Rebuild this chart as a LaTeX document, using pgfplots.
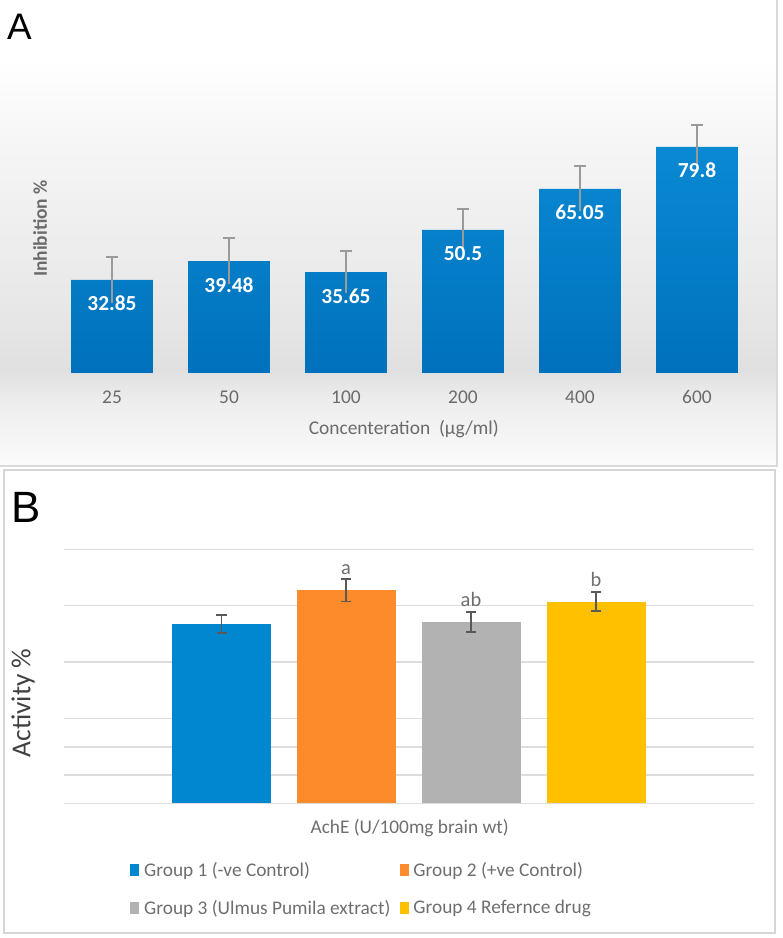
\documentclass[border=0pt]{standalone}
\usepackage{pgfplots}
\pgfplotsset{compat=1.18}
\usepackage{pgfplotstable}
\usepackage{fontspec}
\setmainfont{Carlito}
\newfontfamily\arialf{Liberation Sans}

\definecolor{barAtop}{HTML}{0A89D3}
\definecolor{barAbot}{HTML}{0071BC}
\definecolor{errA}{HTML}{9A9A9A}
\definecolor{txtA}{HTML}{6B6B6B}
\definecolor{txtB}{HTML}{6E6E6E}
\definecolor{ylabB}{HTML}{404040}
\definecolor{frameA}{HTML}{DADADA}
\definecolor{frameB}{HTML}{D6D6D6}
\definecolor{gridc}{HTML}{DDDDDD}
\definecolor{blueB}{HTML}{0087D0}
\definecolor{orangeB}{HTML}{FD8A2B}
\definecolor{greyB}{HTML}{B2B2B2}
\definecolor{yellowB}{HTML}{FFC000}
\definecolor{errB}{HTML}{595959}
\definecolor{shA0}{HTML}{FBFBFB}
\definecolor{shA1}{HTML}{EDEDED}
\definecolor{shA2}{HTML}{E0E0E0}
\definecolor{shA3}{HTML}{E8E8E8}
\definecolor{shA4}{HTML}{F5F5F5}

\pgfdeclareverticalshading{panelA}{100bp}{color(0bp)=(shA0); color(25bp)=(shA0); color(32.1bp)=(shA1); color(35.3bp)=(shA2); color(42.8bp)=(shA3); color(58.9bp)=(shA4); color(68.6bp)=(white); color(75bp)=(white); color(100bp)=(white)}

\pgfplotstableread{
x y err lab
0 32.85 8.1 32.85
1 39.48 8.2 39.48
2 35.65 7.4 35.65
3 50.5 7.3 50.5
4 65.05 7.9 65.05
5 79.8 7.9 79.8
}\dataA

\pgfplotstableread{
x y err
221.5 63.5 3.2
}\dataBone
\pgfplotstableread{
x y err lab
346 75.5 4.0 a
}\dataBtwo
\pgfplotstableread{
x y err lab
471 64.2 3.5 ab
}\dataBthree
\pgfplotstableread{
x y err lab
596 71.5 3.4 b
}\dataBfour

\begin{document}
\begin{tikzpicture}
\useasboundingbox (0bp,0bp) rectangle (783bp,938bp);
% panel A background and frame
\shade[shading=panelA] (0bp,472bp) rectangle (777bp,938bp);
\draw[frameA, line width=1.2bp] (777bp,938bp) -- (777bp,472bp) -- (0bp,472bp);
% panel B frame
\draw[frameB, line width=1.5bp] (4bp,5bp) rectangle (775bp,468bp);
% panel letters
\node[font=\arialf\fontsize{37}{37}\selectfont, anchor=base west, inner sep=0pt] at (7bp,898bp) {A};
\node[font=\arialf\fontsize{44}{44}\selectfont, anchor=base west, inner sep=0pt] at (11bp,415bp) {B};

% ---------------- Panel A ----------------
\begin{axis}[
  at={(53.5bp,565bp)}, anchor=south west, scale only axis,
  width=702bp, height=283.2bp,
  xmin=-0.5, xmax=5.5, ymin=0, ymax=100,
  ybar, bar width=0.7, bar shift=0pt,
  axis line style={draw=none}, major tick length=0pt,
  ytick=\empty, xtick={0,1,2,3,4,5}, xticklabels={25,50,100,200,400,600},
  xticklabel style={font=\fontsize{19.5}{20}\selectfont, text=txtA, anchor=center, yshift=-24bp},
  xlabel={Concenteration\ \ (µg/ml)}, ylabel={Inhibition \%},
  every axis x label/.style={at={(rel axis cs:0.499,-0.198)}, anchor=center, font=\fontsize{19.5}{20}\selectfont, text=txtA},
  every axis y label/.style={at={(rel axis cs:-0.0192,0.51)}, anchor=center, rotate=90, font=\bfseries\fontsize{19.5}{20}\selectfont, text=txtA},
  clip=false,
]
\addplot[draw=none, top color=barAtop, bottom color=barAbot,
  nodes near coords, point meta=explicit symbolic,
  nodes near coords style={text=white, font=\bfseries\fontsize{21.5}{22}\selectfont, anchor=base, yshift=-31bp},
  error bars/.cd, y dir=plus, y explicit, error mark=|,
  error bar style={errA, line width=1.8bp},
  error mark options={errA, line width=1.8bp, mark size=6bp}]
  table[x=x, y=y, y error=err, meta=lab] {\dataA};
\addplot[draw=none, fill=none, forget plot,
  error bars/.cd, y dir=minus, y explicit, error mark=none,
  error bar style={errA, line width=1.8bp}]
  table[x=x, y=y, y error=err] {\dataA};
\end{axis}

% ---------------- Panel B ----------------
\begin{axis}[
  at={(64bp,134.7bp)}, anchor=south west, scale only axis,
  width=690bp, height=254bp,
  xmin=64, xmax=754, ymin=0, ymax=90,
  ybar, bar width=99, bar shift=0pt,
  axis line style={draw=none}, major tick length=0pt,
  xtick=\empty, ytick={0,10,20,30,50,70,90}, yticklabels={,,,,,,},
  ymajorgrids, grid style={draw=gridc, line width=1.5bp},
  xlabel={AchE (U/100mg brain wt)}, ylabel={Activity \%},
  every axis x label/.style={at={(rel axis cs:0.501,-0.097)}, anchor=center, font=\fontsize{19.4}{20}\selectfont, text=txtB},
  every axis y label/.style={at={(rel axis cs:-0.0594,0.395)}, anchor=center, rotate=90, font=\fontsize{27.5}{28}\selectfont, text=ylabB},
  error bars/y dir=both, error bars/y explicit,
  error bars/error mark=|,
  error bars/error bar style={errB, line width=1.5bp},
  error bars/error mark options={errB, line width=1.5bp, mark size=5bp},
  nodes near coords style={text=txtB, font=\fontsize{20.5}{21}\selectfont, anchor=base, yshift=15.3bp},
  legend columns=2, legend cell align=left,
  legend style={draw=none, fill=none, at={(0.0957,-0.224)}, anchor=north west,
    font=\fontsize{19.4}{20}\selectfont, text=txtB, inner sep=0pt, row sep=18bp,
    /tikz/every odd column/.append style={column sep=3bp},
    /tikz/every even column/.append style={column sep=7bp}},
  legend image code/.code={\fill[#1] (0bp,-6bp) rectangle (9bp,6bp);},
  clip=false,
]
\addplot[fill=blueB, draw=none] table[x=x, y=y, y error=err] {\dataBone};
\addlegendentry{Group 1 (-ve Control)}
\addplot[fill=orangeB, draw=none, nodes near coords, point meta=explicit symbolic] table[x=x, y=y, y error=err, meta=lab] {\dataBtwo};
\addlegendentry{Group 2 (+ve Control)}
\addplot[fill=greyB, draw=none, nodes near coords, point meta=explicit symbolic] table[x=x, y=y, y error=err, meta=lab] {\dataBthree};
\addlegendentry{Group 3 (Ulmus Pumila extract)}
\addplot[fill=yellowB, draw=none, nodes near coords, point meta=explicit symbolic] table[x=x, y=y, y error=err, meta=lab] {\dataBfour};
\addlegendentry{Group 4 Refernce drug}
\end{axis}
\end{tikzpicture}
\end{document}
